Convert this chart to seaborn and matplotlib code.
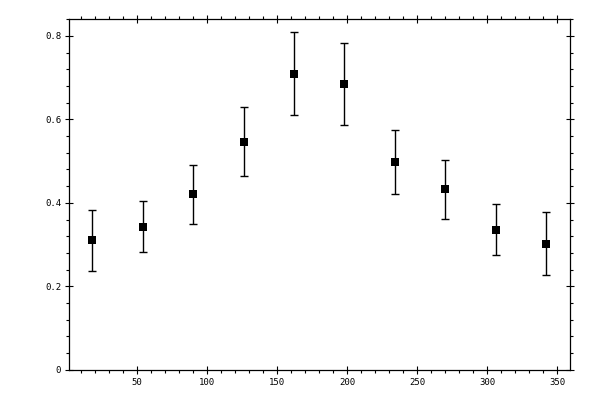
import matplotlib
matplotlib.use("Agg")
import matplotlib.pyplot as plt
from matplotlib.ticker import MultipleLocator, FuncFormatter
import numpy as np
import pandas as pd
import seaborn as sns

# values
angle = [18, 54, 90, 126, 162, 198, 234, 270, 306, 342]
mean_val = [0.310, 0.343, 0.420, 0.547, 0.710, 0.684, 0.497, 0.432, 0.336, 0.302]
err_val = [0.073, 0.061, 0.071, 0.082, 0.099, 0.098, 0.077, 0.071, 0.060, 0.075]

df = pd.DataFrame({"angle": angle, "mean": mean_val, "err": err_val})

sns.set_style("ticks")
plt.rcParams["font.family"] = ["DejaVu Sans Mono", "DejaVu Sans"]

fig = plt.figure(figsize=(6, 4), dpi=100)
ax = fig.add_axes([0.1155, 0.0758, 0.835, 0.876])

ax.errorbar(df["angle"], df["mean"], yerr=df["err"], fmt="none",
            ecolor="black", elinewidth=1.0, capsize=3.2, capthick=1.0)
sns.scatterplot(data=df, x="angle", y="mean", marker="s", s=30,
                color="black", edgecolor="black", linewidth=0, ax=ax, zorder=3)

ax.set_xlim(1.5, 359.3)
ax.set_ylim(0, 0.84)
ax.set_xlabel("")
ax.set_ylabel("")

ax.xaxis.set_major_locator(MultipleLocator(50))
ax.xaxis.set_minor_locator(MultipleLocator(10))
ax.yaxis.set_major_locator(MultipleLocator(0.2))
ax.yaxis.set_minor_locator(MultipleLocator(0.04))
ax.yaxis.set_major_formatter(FuncFormatter(lambda v, p: "%g" % round(v, 2)))

for s in ax.spines.values():
    s.set_visible(True)
    s.set_linewidth(0.9)
    s.set_color("black")

ax.tick_params(which="major", direction="inout", length=5.8, width=0.8,
               top=True, right=True, labelsize=6.5, pad=3, colors="black")
ax.tick_params(which="minor", direction="out", length=2.4, width=0.8,
               top=True, right=True, colors="black")

fig.savefig("out.png", dpi=100)
